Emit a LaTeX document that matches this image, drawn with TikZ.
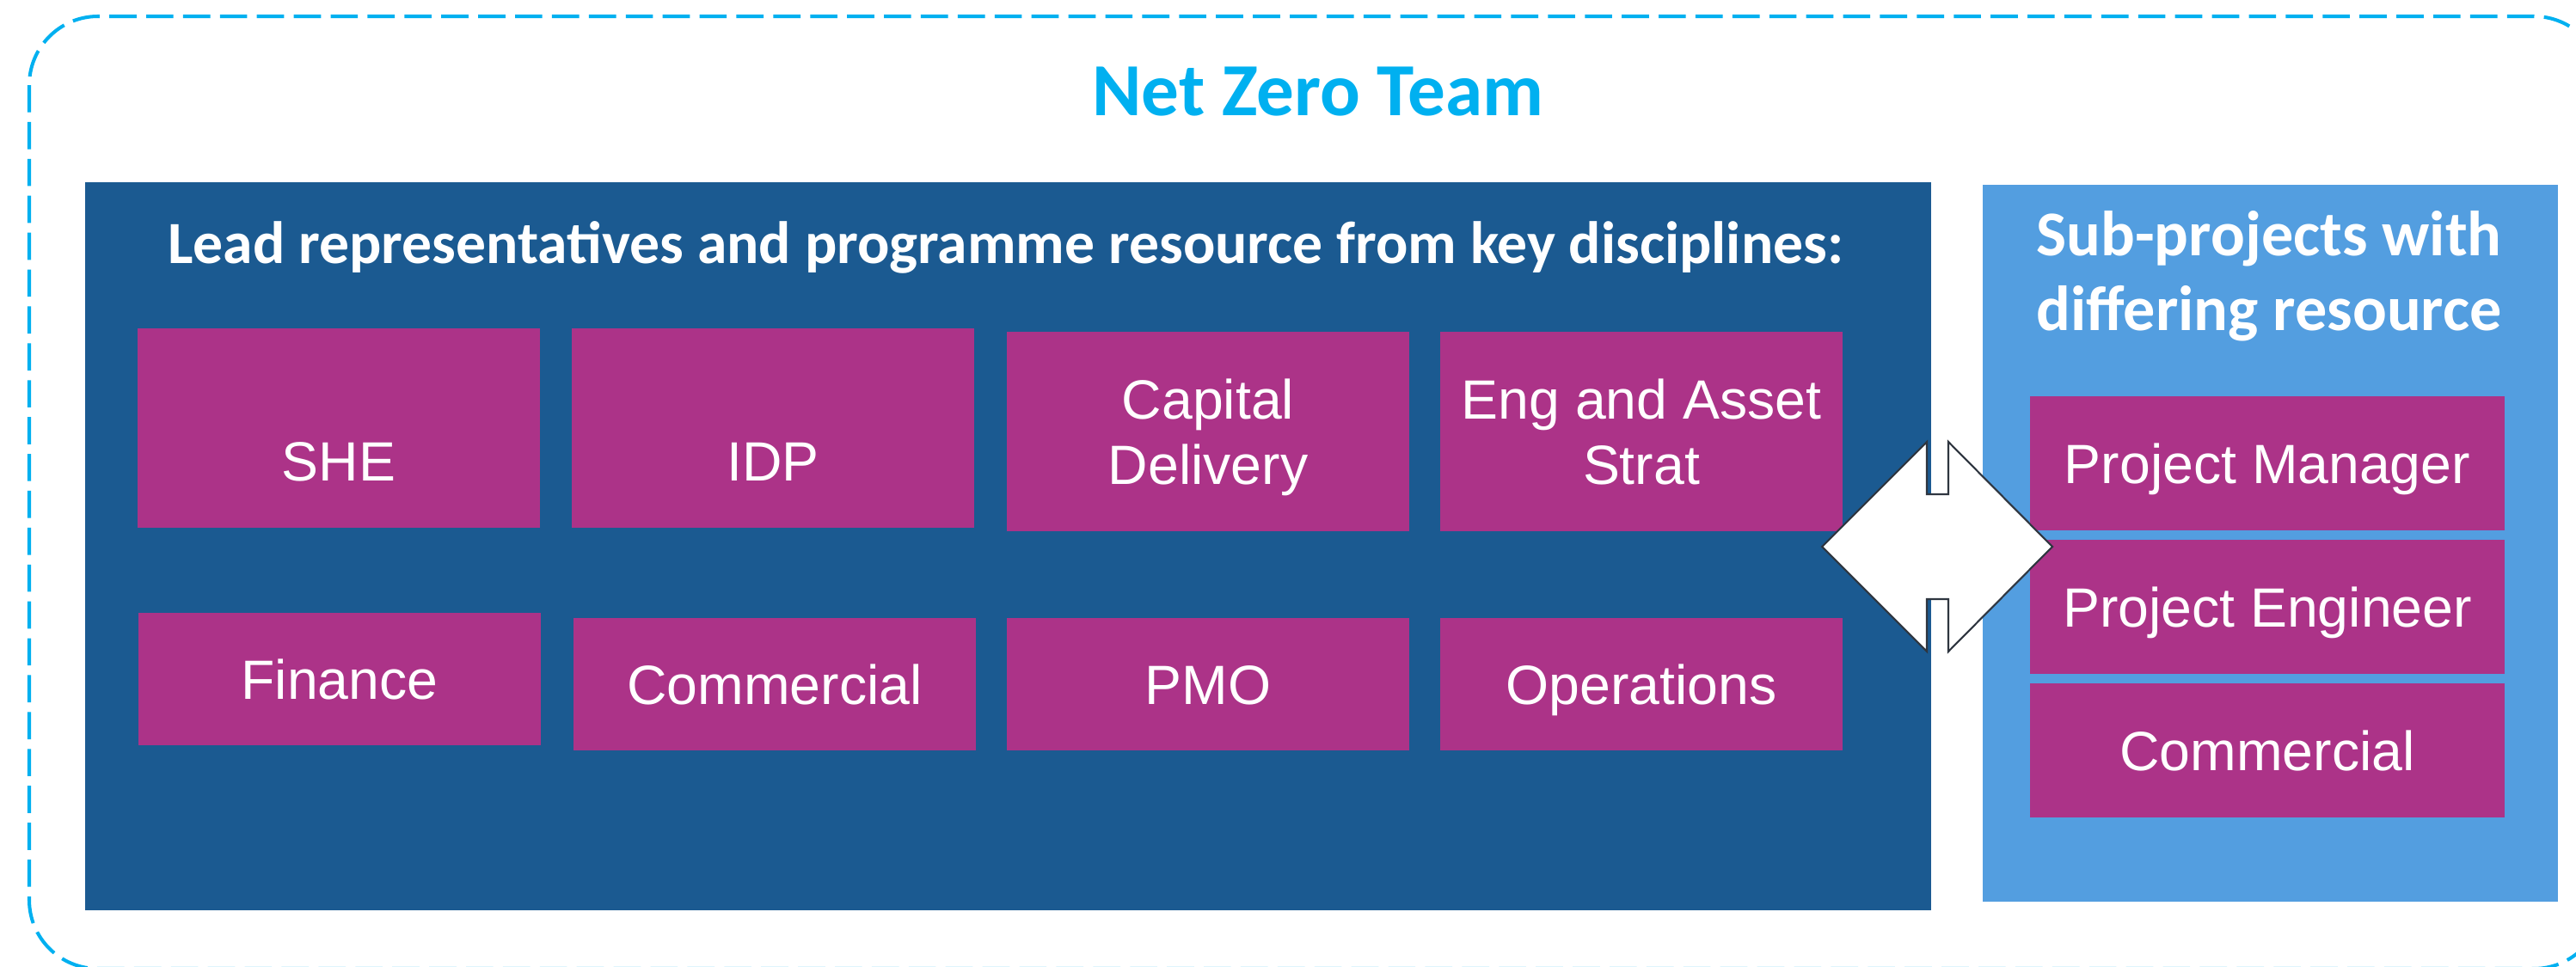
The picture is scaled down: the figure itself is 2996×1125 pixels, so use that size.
\documentclass[tikz,border=0pt]{standalone}
\usepackage{fontspec}
\setmainfont{Liberation Sans}
\newfontfamily\hdfont{Carlito}
\usetikzlibrary{positioning,calc}
\definecolor{nzcyan}{HTML}{00B0F0}
\definecolor{nzdark}{HTML}{1B5A91}
\definecolor{nzlight}{HTML}{539EE0}
\definecolor{nzpurple}{HTML}{AC3388}
\definecolor{nzline}{HTML}{2F3640}
\tikzset{
  role/.style={fill=nzpurple,text=white,align=center,inner sep=0pt,
               minimum width=4.68cm,minimum height=1.54cm,
               text height=13.1pt,text depth=0pt,
               font=\fontsize{18.3}{21.6}\selectfont},
  hd/.style={text=white,align=center,anchor=base,
             font=\hdfont\bfseries\fontsize{19.8}{25}\selectfont},
}
\begin{document}
\begin{tikzpicture}[x=0.01cm,y=-0.01cm,
  tall/.style={role,minimum height=2.32cm,text height=34.7pt},
  side/.style={role,minimum width=5.51cm,minimum height=1.55cm},
  panel/.style={inner sep=0pt,anchor=north west}]
\useasboundingbox (0,0) rectangle (2996,1125);
\clip (0,0) rectangle (2996,1125);
% team envelope
\draw[nzcyan,line width=1.15pt,dash pattern=on 9pt off 3.2pt,rounded corners=0.8cm]
  (34,19) rectangle (3027,1127);
\node[anchor=base,text=nzcyan,font=\hdfont\bfseries\fontsize{24.8}{26}\selectfont]
  (title) at (1533,135) {Net Zero Team};
% panels
\node[panel,fill=nzdark,minimum width=21.46cm,minimum height=8.47cm] (lead) at (98,211) {};
\node[panel,fill=nzlight,minimum width=6.69cm,minimum height=8.34cm] (sub) at (2305,214) {};
\node[hd] (leadhd) at (1170,307) {Lead representatives and programme resource from key disciplines:};
\node[hd,font=\hdfont\bfseries\fontsize{21.1}{25}\selectfont] (subhd) at (2639,385)
  {Sub-projects with\\differing resource};
% disciplines
\node[tall] (she) at (394,498) {SHE};
\node[tall] (idp) at (899,498) {IDP};
\node[tall] (capdel) at (1405,502) {Capital\\Delivery};
\node[tall] (eng) at (1909,502) {Eng and Asset\\Strat};
\node[role] (fin) at (395,790) {Finance};
\node[role] (comm) at (901,796) {Commercial};
\node[role] (pmo) at (1405,796) {PMO};
\node[role] (ops) at (1909,796) {Operations};
% sub-project roles
\node[side] (pm) at (2637,539) {Project Manager};
\node[side] (pe) at (2637,706) {Project Engineer};
\node[side] (pcomm) at (2637,873) {Commercial};
% two-way link
\draw[fill=white,draw=nzline,line width=0.6pt,line join=miter]
  (2241,514) -- (2119,636) -- (2241,758) -- (2241,697) -- (2266,697) -- (2266,758)
  -- (2387,636) -- (2266,514) -- (2266,575) -- (2241,575) -- cycle;
\end{tikzpicture}
\end{document}
